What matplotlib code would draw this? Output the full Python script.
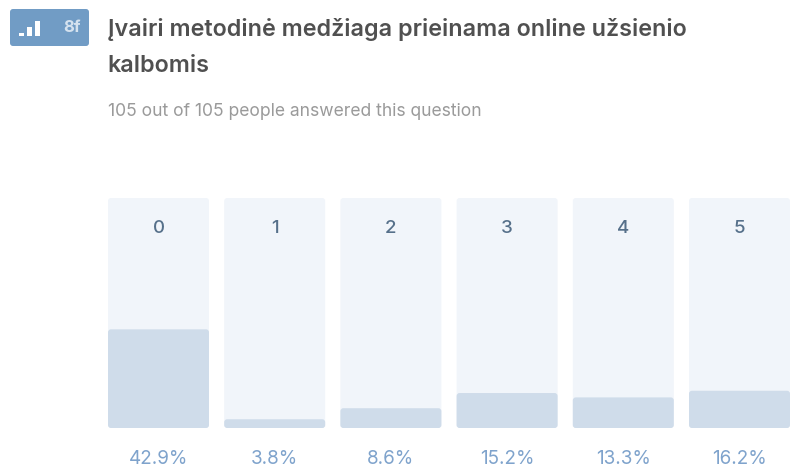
import matplotlib
matplotlib.use('Agg')
import matplotlib.pyplot as plt
from matplotlib.patches import FancyBboxPatch, Rectangle

plt.rcParams['font.family'] = ['Inter', 'DejaVu Sans']

categories = ['0', '1', '2', '3', '4', '5']
shares = [42.9, 3.8, 8.6, 15.2, 13.3, 16.2]
title_lines = ['Įvairi metodinė medžiaga prieinama online užsienio', 'kalbomis']
subtitle = '105 out of 105 people answered this question'
badge_label = '8f'
icon_heights = [2.5, 8.5, 15]

W, H = 790, 467
fig = plt.figure(figsize=(W / 100, H / 100), dpi=100)

# overlay in pixel coords for the header
bg = fig.add_axes([0, 0, 1, 1])
bg.set_xlim(0, W)
bg.set_ylim(H, 0)
bg.axis('off')

bg.add_patch(FancyBboxPatch((10, 9), 79, 37, boxstyle='round,pad=0,rounding_size=3',
                            fc='#719cc5', ec='none'))
for x, h in zip([19, 27, 35], icon_heights):
    bg.add_patch(Rectangle((x, 35.5 - h), 5, h, fc='white', ec='none'))
bg.text(71.5, 27.5, badge_label, color='#d5e2ef', fontsize=12, fontweight='bold',
        ha='center', va='center')

bg.text(107.5, 29.5, title_lines[0], color='#505050', fontsize=16.8, fontweight='semibold', va='center')
bg.text(107.5, 65.5, title_lines[1], color='#505050', fontsize=16.8, fontweight='semibold', va='center')
bg.text(108, 111.5, subtitle, color='#9a9a9a', fontsize=12.6, va='center')

# bars: 100% is the full track height
pitch = 116.2
bar_w = 101 / pitch
ax = fig.add_axes([108 / W, 1 - 428 / H, 682 / W, 230 / H])
ax.set_xlim(-bar_w / 2, len(shares) - 1 + bar_w / 2)
ax.set_ylim(0, 100)
ax.axis('off')
ax.patch.set_visible(False)

# pixels per unit on each axis, to keep the corners round
px_x = 682 / (len(shares) - 1 + bar_w)
px_y = 230 / 100
r = 3 / px_x
aspect = px_x / px_y

for i, (cat, val) in enumerate(zip(categories, shares)):
    ax.add_patch(FancyBboxPatch((i - bar_w / 2, 0), bar_w, 100, mutation_aspect=aspect,
                                boxstyle=f'round,pad=0,rounding_size={r}',
                                fc='#f1f5fa', ec='none', clip_on=False))
    ax.add_patch(FancyBboxPatch((i - bar_w / 2, 0), bar_w, val, mutation_aspect=aspect,
                                boxstyle=f'round,pad=0,rounding_size={r}',
                                fc='#cfdcea', ec='none', clip_on=False))
    ax.annotate(cat, (i, 100), xytext=(0, -30), textcoords='offset pixels',
                ha='center', va='center', color='#56708a', fontsize=13.5, fontweight='medium')
    ax.annotate(f'{val}%', (i, 0), xytext=(0, -30.5), textcoords='offset pixels',
                ha='center', va='center', color='#7fa3cc', fontsize=13.6, annotation_clip=False)

fig.savefig('out.png', dpi=100)
